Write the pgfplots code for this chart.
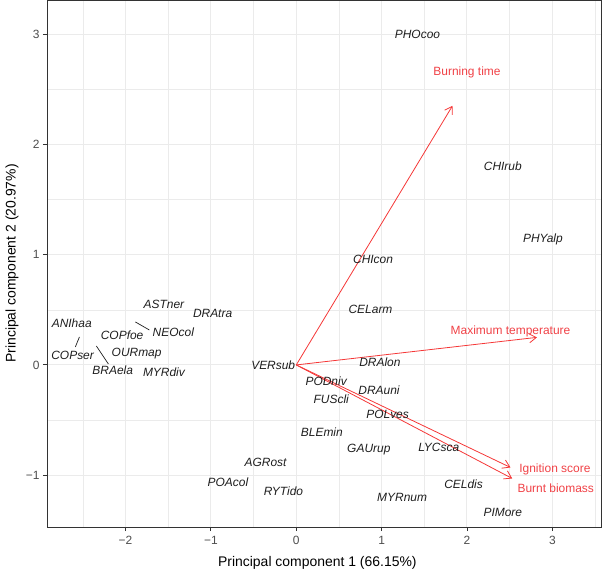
\documentclass[border=0pt]{standalone}
\usepackage{fontspec}
\setmainfont{Liberation Sans}
\usepackage{pgfplots}
\pgfplotsset{compat=1.18}
\usepackage{pgfplotstable}
\usetikzlibrary{arrows.meta}

\definecolor{arrred}{RGB}{245,55,55}
\definecolor{labred}{RGB}{240,65,70}
\definecolor{gridc}{RGB}{235,235,235}
\definecolor{tickc}{RGB}{77,77,77}
\definecolor{bordc}{RGB}{51,51,51}
\definecolor{spc}{RGB}{30,30,30}

\pgfplotstableread[col sep=comma]{
x,y,label
1.42,3.00,PHOcoo
2.42,1.80,CHIrub
2.89,1.14,PHYalp
0.90,0.96,CHIcon
0.87,0.50,CELarm
0.98,0.02,DRAlon
-0.27,0.00,VERsub
0.35,-0.15,PODniv
0.97,-0.23,DRAuni
0.41,-0.31,FUScli
1.07,-0.45,POLves
0.30,-0.61,BLEmin
0.85,-0.77,GAUrup
1.67,-0.75,LYCsca
-0.36,-0.88,AGRost
-0.80,-1.06,POAcol
-0.15,-1.15,RYTido
1.24,-1.20,MYRnum
1.96,-1.08,CELdis
2.42,-1.34,PIMore
-1.55,0.55,ASTner
-0.98,0.47,DRAtra
-2.63,0.38,ANIhaa
-2.04,0.27,COPfoe
-1.44,0.30,NEOcol
-2.62,0.09,COPser
-1.87,0.10,OURmap
-2.15,-0.05,BRAela
-1.55,-0.07,MYRdiv
}\species

\pgfplotstableread[col sep=comma]{
x,y,label
2.00,2.65,Burning time
2.51,0.30,Maximum temperature
3.03,-0.95,Ignition score
3.04,-1.12,Burnt biomass
}\vars

\begin{document}
\begin{tikzpicture}
\useasboundingbox (-47bp,-44bp) rectangle (555bp,527bp);
\begin{axis}[
  scale only axis, width=554bp, height=527bp,
  xmin=-2.92, xmax=3.57, ymin=-1.47, ymax=3.31,
  xtick={-2,-1,0,1,2,3}, xticklabels={−2,−1,0,1,2,3},
  ytick={-1,0,1,2,3}, yticklabels={−1,0,1,2,3},
  minor xtick={-2.5,-1.5,-0.5,0.5,1.5,2.5,3.5},
  minor ytick={-0.5,0.5,1.5,2.5},
  grid=both,
  major grid style={gridc, line width=1bp},
  minor grid style={gridc, line width=0.6bp},
  axis line style={bordc, line width=0.9bp},
  tick align=outside, xtick pos=bottom, ytick pos=left,
  major tick length=4bp, minor tick length=0pt,
  tick style={bordc, line width=0.9bp},
  ticklabel style={font=\fontsize{12}{14}\selectfont, text=tickc},
  xticklabel style={yshift=-2bp},
  xlabel={Principal component 1 (66.15\%)},
  ylabel={Principal component 2 (20.97\%)},
  every axis x label/.style={at={(axis description cs:0.488,-0.0683)}, anchor=center, font=\fontsize{14}{16}\selectfont},
  every axis y label/.style={at={(axis description cs:-0.0632,0.5)}, anchor=center, rotate=90, font=\fontsize{14}{16}\selectfont},
]
\addplot[arrred, line width=0.8bp, -{Straight Barb[length=7bp,width=9bp]}] coordinates {(0,0) (1.83,2.35)};
\addplot[arrred, line width=0.8bp, -{Straight Barb[length=7bp,width=9bp]}] coordinates {(0,0) (2.82,0.25)};
\addplot[arrred, line width=0.8bp, -{Straight Barb[length=7bp,width=9bp]}] coordinates {(0,0) (2.51,-0.93)};
\addplot[arrred, line width=0.8bp, -{Straight Barb[length=7bp,width=9bp]}] coordinates {(0,0) (2.53,-1.03)};

\addplot[spc, line width=0.7bp] coordinates {(-2.54,0.254) (-2.588,0.163)};
\addplot[spc, line width=0.7bp] coordinates {(-2.342,0.172) (-2.201,0.009)};
\addplot[spc, line width=0.7bp] coordinates {(-1.885,0.39) (-1.721,0.317)};

\addplot[draw=none, nodes near coords, point meta=explicit symbolic,
  every node near coord/.style={anchor=center, inner sep=0pt, font=\fontsize{12}{14}\selectfont\itshape, text=spc}]
  table[x=x, y=y, meta=label]{\species};
\addplot[draw=none, nodes near coords, point meta=explicit symbolic,
  every node near coord/.style={anchor=center, inner sep=0pt, font=\fontsize{12}{14}\selectfont, text=labred}]
  table[x=x, y=y, meta=label]{\vars};
\end{axis}
\end{tikzpicture}
\end{document}
